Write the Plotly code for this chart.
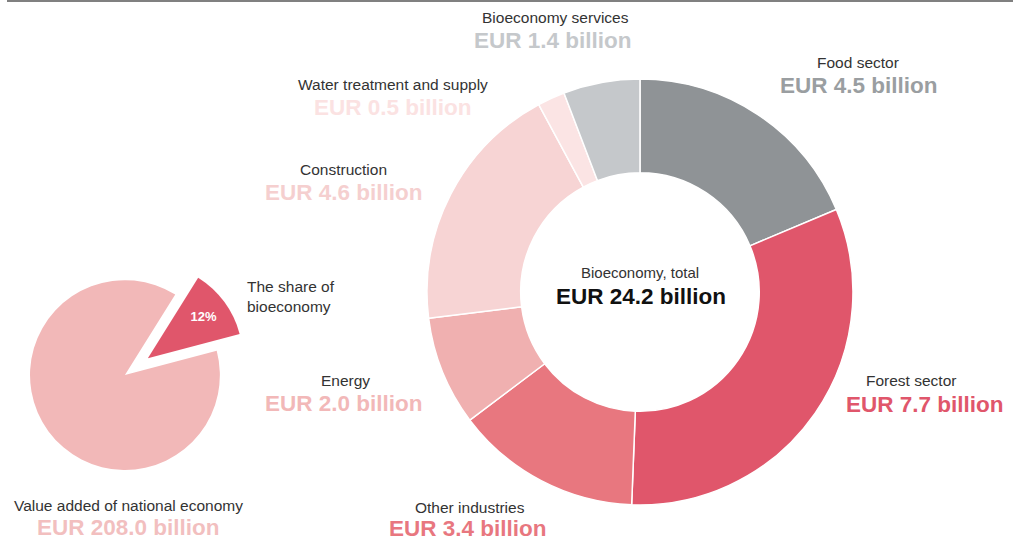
import plotly.graph_objects as go

# left pie: bioeconomy share of the national economy
share_labels = ["Bioeconomy", "Rest of national economy"]
share_values = [12, 88]
share_text = ["<b>12%</b>", ""]
share_colors = ["#e0566b", "#f2b8b8"]

# right donut: bioeconomy value added by sector (EUR billion)
sectors = ["Food sector", "Forest sector", "Other industries", "Energy",
           "Construction", "Water treatment and supply", "Bioeconomy services"]
sector_values = [4.5, 7.7, 3.4, 2.0, 4.6, 0.5, 1.4]
sector_colors = ["#8f9396", "#e0566b", "#e8777f", "#f0b0b0",
                 "#f7d4d4", "#fbe4e4", "#c5c8cb"]
total_value = 24.2
national_value = 208.0

W, H = 1022, 542


def px(x, y):
    # pixel position -> paper coordinates
    return x / W, 1 - y / H


fig = go.Figure()

fig.add_trace(go.Pie(
    labels=share_labels,
    values=share_values,
    text=share_text,
    textinfo="text",
    textposition="inside",
    insidetextfont=dict(color="white", size=13, family="Liberation Sans"),
    marker=dict(colors=share_colors, line=dict(color="white", width=0)),
    pull=[0.3, 0],
    sort=False,
    direction="clockwise",
    rotation=32,
    domain=dict(x=[0.0015, 0.243], y=[0.080, 0.536]),
    hoverinfo="label+percent",
))

fig.add_trace(go.Pie(
    labels=sectors,
    values=sector_values,
    hole=0.56,
    textinfo="none",
    marker=dict(colors=sector_colors, line=dict(color="white", width=1.5)),
    sort=False,
    direction="clockwise",
    rotation=0,
    domain=dict(x=[0.4178, 0.8346], y=[0.0683, 0.8542]),
    hoverinfo="label+value",
))

label_font = dict(family="Liberation Sans", size=15.5, color="#333333")
value_font = dict(family="Liberation Sans", size=22.5, color="#999999")

annots = [
    # (label, x, y of label, value text, x, y, colour)
    ("Bioeconomy services", 555, 18, "EUR %.1f billion" % sector_values[6], 553, 41, "#c5c8cb"),
    ("Food sector", 858, 63, "EUR %.1f billion" % sector_values[0], 859, 86, "#9a9ea1"),
    ("Water treatment and supply", 393, 84, "EUR %.1f billion" % sector_values[5], 393, 107, "#fbe2e2"),
    ("Construction", 343, 170, "EUR %.1f billion" % sector_values[4], 344, 193, "#f5cfcf"),
    ("Energy", 345, 380, "EUR %.1f billion" % sector_values[3], 344, 403, "#f2b8b8"),
    ("Forest sector", 911, 380, "EUR %.1f billion" % sector_values[1], 925, 404, "#e0566b"),
    ("Other industries", 470, 507, "EUR %.1f billion" % sector_values[2], 468, 528, "#e8777f"),
    ("Value added of national economy", 128, 505, "EUR %.1f billion" % national_value, 128, 527, "#f2bfbf"),
]

for lab, lx, ly, val, vx, vy, col in annots:
    x, y = px(lx, ly)
    fig.add_annotation(x=x, y=y, xref="paper", yref="paper", text=lab,
                       showarrow=False, xanchor="center", yanchor="middle",
                       font=label_font)
    x, y = px(vx, vy)
    fig.add_annotation(x=x, y=y, xref="paper", yref="paper", text="<b>%s</b>" % val,
                       showarrow=False, xanchor="center", yanchor="middle",
                       font=dict(value_font, color=col))

x, y = px(245, 296)
fig.add_annotation(x=x, y=y, xref="paper", yref="paper",
                   text="The share of<br>bioeconomy", align="left",
                   showarrow=False, xanchor="left", yanchor="middle",
                   font=label_font)

x, y = px(640, 272)
fig.add_annotation(x=x, y=y, xref="paper", yref="paper", text="Bioeconomy, total",
                   showarrow=False, xanchor="center", yanchor="middle",
                   font=dict(label_font, size=15))
x, y = px(641, 296)
fig.add_annotation(x=x, y=y, xref="paper", yref="paper",
                   text="<b>EUR %.1f billion</b>" % total_value,
                   showarrow=False, xanchor="center", yanchor="middle",
                   font=dict(family="Liberation Sans", size=22.5, color="#111111"))

# thin grey rule along the top edge
fig.add_shape(type="line", xref="paper", yref="paper",
              x0=7 / W, x1=1013 / W, y0=1 - 1 / H, y1=1 - 1 / H,
              line=dict(color="#808080", width=2))

fig.update_layout(
    width=W, height=H,
    margin=dict(l=0, r=0, t=0, b=0),
    paper_bgcolor="white",
    plot_bgcolor="white",
    showlegend=False,
)

# drop the browser's default page margin so the figure sits at the corner
fig.write_html("out.html",
               config={"displayModeBar": False},
               post_script="document.body.style.margin='0';document.body.style.overflow='hidden';")
